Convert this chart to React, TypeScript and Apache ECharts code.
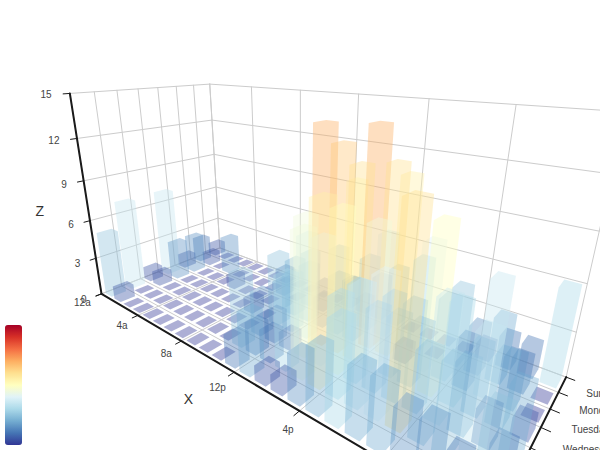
import React, { useEffect, useRef } from "react";
import * as echarts from "echarts";

const hours = ["12a","1a","2a","3a","4a","5a","6a","7a","8a","9a","10a","11a","12p","1p","2p","3p","4p","5p","6p","7p","8p","9p","10p","11p"];
const days = ["Saturday","Friday","Thursday","Wednesday","Tuesday","Monday","Sunday"];
const saturday = [5,1,0,0,0,0,0,0,0,0,0,2,4,1,1,3,4,6,4,4,3,3,2,5];
const friday = [7,0,0,0,0,0,0,0,0,0,5,2,2,6,9,11,6,7,8,12,5,5,7,2];
const thursday = [1,1,0,0,0,0,0,0,0,0,3,2,1,9,8,10,6,5,5,5,7,4,2,4];
const wednesday = [7,3,0,0,0,0,0,0,1,0,5,4,7,14,13,12,9,5,5,10,6,4,4,1];
const tuesday = [1,3,0,0,0,1,0,0,0,2,4,4,2,4,4,14,12,1,8,5,3,7,3,0];
const monday = [2,1,0,3,0,0,0,0,2,0,4,1,5,10,5,7,11,6,0,5,3,4,2,0];
const sunday = [1,0,0,0,0,0,0,0,0,0,1,0,2,1,3,4,0,0,0,0,1,2,2,6];
const rows = [saturday, friday, thursday, wednesday, tuesday, monday, sunday];
const zTicks = [0, 3, 6, 9, 12, 15];
const palette = ["#313695","#4575b4","#74add1","#abd9e9","#e0f3f8","#ffffbf","#fee090","#fdae61","#f46d43","#d73027","#a50026"];

const W = 600, H = 450;
const BOX_W = 200, BOX_D = 80, BOX_H = 100;
const ALPHA = (20 * Math.PI) / 180, BETA = (40 * Math.PI) / 180, DIST = 200;
const FOCAL = H / 2 / Math.tan((25 * Math.PI) / 180);
const HOUR_STEP = 4;
const BAR_RATIO = 0.7;
const OPACITY = 0.4;
const GRID = "#cccccc", AXIS = "#1a1a1a", LABEL = "#444444", NAME = "#333333";
const FONT = "Liberation Sans";
const LABEL_SIZE = 10, NAME_SIZE = 14;

const sa = Math.sin(ALPHA), ca = Math.cos(ALPHA), sb = Math.sin(BETA), cb = Math.cos(BETA);
const eye = [DIST * ca * sb, DIST * sa, DIST * ca * cb];
const project = (x: number, y: number, z: number): number[] => {
  const rx = x - eye[0], ry = y - eye[1], rz = z - eye[2];
  const cx = rx * cb - rz * sb;
  const cy = -rx * sa * sb + ry * ca - rz * sa * cb;
  const d = -(rx * ca * sb + ry * sa + rz * ca * cb);
  return [W / 2 + (FOCAL * cx) / d, H / 2 - (FOCAL * cy) / d];
};

const x0 = -BOX_W / 2, x1 = BOX_W / 2, zFront = BOX_D / 2, zBack = -BOX_D / 2, floor = -BOX_H / 2, top = BOX_H / 2;
const bandX = BOX_W / hours.length, bandZ = BOX_D / days.length;
const xAt = (i: number) => x0 + i * bandX;
const zAt = (j: number) => zFront - j * bandZ;
const yAt = (v: number) => floor + (v / zTicks[zTicks.length - 1]) * BOX_H;

const hull = (pts: number[][]): number[][] => {
  const s = pts.slice().sort((a, b) => a[0] - b[0] || a[1] - b[1]);
  const cross = (o: number[], a: number[], b: number[]) => (a[0] - o[0]) * (b[1] - o[1]) - (a[1] - o[1]) * (b[0] - o[0]);
  const half = (list: number[][]) => {
    const out: number[][] = [];
    for (const p of list) {
      while (out.length >= 2 && cross(out[out.length - 2], out[out.length - 1], p) <= 0) out.pop();
      out.push(p);
    }
    out.pop();
    return out;
  };
  return half(s).concat(half(s.slice().reverse()));
};

// far bars first, so that the transparent fills stack as they do in depth
const barData: number[][] = [];
for (let j = days.length - 1; j >= 0; j--) {
  for (let i = 0; i < hours.length; i++) barData.push([i, j, rows[j][i]]);
}

const seg = (a: number[], b: number[], stroke: string, lineWidth: number) => {
  const p = project(a[0], a[1], a[2]), q = project(b[0], b[1], b[2]);
  return { type: "line", silent: true, shape: { x1: p[0], y1: p[1], x2: q[0], y2: q[1] }, style: { stroke, lineWidth, lineCap: "round" } };
};
const label = (pos: number[], text: string, align: string, fontSize: number, fill: string) => {
  const p = project(pos[0], pos[1], pos[2]);
  return { type: "text", silent: true, style: { x: p[0], y: p[1], text, align, verticalAlign: "middle", fontSize, fontFamily: FONT, fill } };
};

const TICK = 3, MARGIN = 8, NAME_GAP = 20;

const renderFrame = () => {
  const c: any[] = [];
  for (const v of zTicks) {
    const y = yAt(v);
    c.push(seg([x0, y, zFront], [x0, y, zBack], GRID, 1));
    c.push(seg([x0, y, zBack], [x1, y, zBack], GRID, 1));
  }
  for (let i = 0; i <= hours.length; i += HOUR_STEP) {
    c.push(seg([xAt(i), floor, zFront], [xAt(i), floor, zBack], GRID, 1));
    c.push(seg([xAt(i), floor, zBack], [xAt(i), top, zBack], GRID, 1));
  }
  for (let j = 0; j <= days.length; j++) {
    c.push(seg([x0, floor, zAt(j)], [x1, floor, zAt(j)], GRID, 1));
    c.push(seg([x0, floor, zAt(j)], [x0, top, zAt(j)], GRID, 1));
  }
  c.push(seg([x0, floor, zFront], [x0, top, zFront], AXIS, 2));
  c.push(seg([x0, floor, zFront], [x1, floor, zFront], AXIS, 2));
  c.push(seg([x1, floor, zFront], [x1, floor, zBack], AXIS, 2));
  for (const v of zTicks) {
    c.push(seg([x0, yAt(v), zFront], [x0, yAt(v), zFront + TICK], AXIS, 1));
    c.push(label([x0, yAt(v), zFront + MARGIN], String(v), "right", LABEL_SIZE, LABEL));
  }
  for (let i = 0; i <= hours.length; i += HOUR_STEP) {
    c.push(seg([xAt(i), floor, zFront], [xAt(i), floor, zFront + TICK], AXIS, 1));
    if (i < hours.length) c.push(label([xAt(i + 0.5), floor, zFront + MARGIN], hours[i], "right", LABEL_SIZE, LABEL));
  }
  for (let j = 0; j <= days.length; j++) {
    c.push(seg([x1, floor, zAt(j)], [x1 + TICK, floor, zAt(j)], AXIS, 1));
    if (j < days.length) c.push(label([x1 + MARGIN, floor, zAt(j + 0.5)], days[j], "left", LABEL_SIZE, LABEL));
  }
  c.push(label([0, floor, zFront + NAME_GAP], "X", "right", NAME_SIZE, NAME));
  c.push(label([x1 + NAME_GAP, floor, 0], "Y", "left", NAME_SIZE, NAME));
  c.push(label([x0, 0, zFront + NAME_GAP], "Z", "right", NAME_SIZE, NAME));
  return { type: "group", children: c };
};

const renderBar = (_p: any, api: any) => {
  const i = api.value(0), j = api.value(1), v = api.value(2);
  const dx = (bandX * BAR_RATIO) / 2, dz = (bandZ * BAR_RATIO) / 2;
  const cx = xAt(i + 0.5), cz = zAt(j + 0.5), h = yAt(v);
  const pts: number[][] = [];
  for (const x of [cx - dx, cx + dx]) for (const z of [cz - dz, cz + dz]) {
    pts.push(project(x, floor, z));
    if (v > 0) pts.push(project(x, h, z));
  }
  return {
    type: "polygon",
    shape: { points: hull(pts) },
    style: { fill: api.visual("color"), opacity: OPACITY },
  };
};

export default function App() {
  const ref = useRef<HTMLDivElement>(null);
  useEffect(() => {
    const chart = echarts.init(ref.current!, undefined, { renderer: "svg" });
    chart.setOption({
      animation: false,
      backgroundColor: "#ffffff",
      visualMap: {
        type: "continuous",
        seriesIndex: 1,
        dimension: 2,
        min: 0,
        max: 20,
        left: 0,
        bottom: 0,
        padding: 5,
        itemWidth: 17,
        itemHeight: 120,
        calculable: false,
        showLabel: false,
        inRange: { color: palette },
      },
      series: [
        { type: "custom", coordinateSystem: "none", silent: true, data: [[0]], renderItem: renderFrame },
        { type: "custom", coordinateSystem: "none", silent: true, data: barData, renderItem: renderBar },
      ],
    });
    return () => chart.dispose();
  }, []);
  return <div ref={ref} style={{ position: "fixed", left: 0, top: 0, width: W, height: H }} />;
}
